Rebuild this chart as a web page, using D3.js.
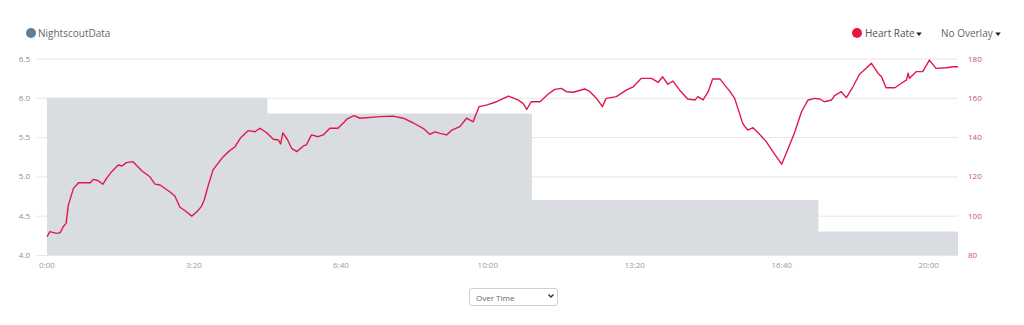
<!DOCTYPE html>
<html>
<head>
<meta charset="utf-8">
<script src="https://cdn.jsdelivr.net/npm/d3@7"></script>
<style>
  html, body { margin: 0; padding: 0; background: #fff; }
  body { width: 1024px; height: 325px; position: relative; overflow: hidden; font-family: "Open Sans", sans-serif; }
  svg { position: absolute; left: 0; top: 0; }
  select {
    position: absolute; left: 469px; top: 288px; width: 89px; height: 18px;
    font-family: "Open Sans", sans-serif; font-size: 8px; color: #666;
    border: 1px solid #d0d0d0; border-radius: 3px; background: #fff; padding: 0 0 0 6px;
    -webkit-appearance: none; appearance: none; box-sizing: border-box;
  }
  #chev { position: absolute; left: 547px; top: 292px; pointer-events: none; }
</style>
</head>
<body>
<svg id="chart" width="1024" height="325"></svg>
<select><option>Over Time</option></select>
<svg id="chev" width="8" height="8"><path d="M1.5,2.5 L4,5 L6.5,2.5" fill="none" stroke="#333" stroke-width="1.4"/></svg>
<script>
// ---- data ----
const glucoseStepTimes = [0, 300, 660, 1050, 1240];   // minutes
const glucoseStepValues = [6.0, 5.8, 4.7, 4.3, 4.3];   // mmol/L
const hrTimes = [0,4,9,13,18,22,26,29,36,39,43,59,63,70,76,81,88,97,102,108,117,129,140,147,154,167,174,181,188,197,204,210,214,219,226,238,247,256,263,274,283,290,299,308,315,318,321,327,333,340,349,353,360,369,376,385,396,405,408,418,426,453,471,485,498,512,521,528,535,544,551,562,571,580,588,598,612,628,641,648,653,659,671,682,691,700,707,716,732,739,748,756,761,775,789,798,809,823,832,838,845,852,861,872,882,886,893,900,906,916,923,929,936,947,950,954,961,970,979,988,1000,1009,1018,1027,1036,1045,1052,1058,1068,1072,1081,1088,1097,1106,1115,1122,1131,1136,1142,1154,1163,1170,1172,1174,1183,1192,1201,1210,1224,1233,1240];
const hrValues = [89.3,91.9,91.4,91.0,91.4,94.4,96.1,105.4,113.9,115.1,116.8,116.8,118.5,117.8,116,119,122.4,125.8,125.3,127,127.5,122.9,119.8,116.1,115.6,112.2,110,104.3,102.5,99.8,102,104.6,108,114.8,123.3,129.2,132.6,135.1,139.4,143.3,142.7,144.5,142.2,138.9,138.5,136.5,142.2,138.9,134.3,132.6,135.5,136,141.1,140.2,141.1,144.5,144.5,147.8,149.1,150.9,149.6,150.4,150.7,149.6,147.3,144.5,141.4,142.7,141.9,141.1,143.6,145.3,149.6,147.8,155.5,156.3,158,160.9,158.9,157.2,154.1,158,158,161.8,164.3,164.8,163.1,162.8,164.5,163.1,159.7,155.5,159.7,160.6,164,165.6,169.9,169.9,167.9,170.7,166.9,168.5,164,159.4,158.9,160.6,158.9,163.1,169.6,169.6,166.2,163.5,159.7,147,145.3,143.6,144.8,141.4,137.7,132.6,126.2,134.3,142.7,152.9,158.9,159.7,159.4,158,158.9,161.1,163.1,160.1,165.6,172,175,177.6,172.5,170.7,165.1,165.1,167.4,169.1,172.5,169.9,173.3,173.3,179.2,175,175.3,175.8,175.8];
const leftTicks = [4.0, 4.5, 5.0, 5.5, 6.0, 6.5];
const rightTicks = [80, 100, 120, 140, 160, 180];
const xTicks = [0, 200, 400, 600, 800, 1000, 1200];

// ---- layout ----
const svg = d3.select("#chart");
const x = d3.scaleLinear().domain([0, 1240]).range([47, 958]);
const yL = d3.scaleLinear().domain([4.0, 6.5]).range([255, 58.5]);
const yR = d3.scaleLinear().domain([80, 180]).range([255, 58.5]);

// gridlines
svg.append("g").selectAll("line").data(leftTicks).join("line")
  .attr("x1", 37).attr("x2", 958)
  .attr("y1", d => yL(d) + 0.5).attr("y2", d => yL(d) + 0.5)
  .attr("stroke", "#e6e6e6").attr("stroke-width", 1);

// glucose step area
const steps = glucoseStepTimes.map((t, i) => ({ t, v: glucoseStepValues[i] }));
svg.append("path").datum(steps)
  .attr("d", d3.area().curve(d3.curveStepAfter).x(d => x(d.t)).y0(yL(4.0)).y1(d => yL(d.v)))
  .attr("fill", "#d9dde2");

// heart rate line
const hr = hrTimes.map((t, i) => ({ t, v: hrValues[i] }));
svg.append("path").datum(hr)
  .attr("d", d3.line().x(d => x(d.t)).y(d => yR(d.v)))
  .attr("fill", "none").attr("stroke", "#e0184a").attr("stroke-width", 1.4)
  .attr("stroke-linejoin", "round");

// left axis labels
svg.append("g").selectAll("text").data(leftTicks).join("text")
  .attr("x", 30).attr("y", d => yL(d) + 3)
  .attr("text-anchor", "end").attr("font-size", 8).attr("fill", "#8a8f99")
  .text(d => d.toFixed(1));

// right axis labels
svg.append("g").selectAll("text").data(rightTicks).join("text")
  .attr("x", 968).attr("y", d => yR(d) + 3)
  .attr("text-anchor", "start").attr("font-size", 8).attr("fill", "#c4506e")
  .text(d => d);

// x axis labels
const fmt = m => Math.floor(m / 60) + ":" + String(m % 60).padStart(2, "0");
svg.append("g").selectAll("text").data(xTicks).join("text")
  .attr("x", d => x(d)).attr("y", 268)
  .attr("text-anchor", "middle").attr("font-size", 8).attr("fill", "#9a9a9a")
  .text(fmt);

// legends
const tri = (cx, cy) => `M${cx - 2.8},${cy - 1.5} L${cx + 2.8},${cy - 1.5} L${cx},${cy + 2} Z`;
svg.append("circle").attr("cx", 31).attr("cy", 33).attr("r", 5).attr("fill", "#5f7d95");
svg.append("text").attr("x", 38).attr("y", 36.5).attr("font-size", 10).attr("fill", "#666").text("NightscoutData");

svg.append("circle").attr("cx", 857).attr("cy", 33).attr("r", 5).attr("fill", "#e8143f");
svg.append("text").attr("x", 865).attr("y", 36.5).attr("font-size", 10).attr("fill", "#555").text("Heart Rate");
svg.append("path").attr("d", tri(919, 34)).attr("fill", "#222");
svg.append("text").attr("x", 941).attr("y", 36.5).attr("font-size", 10).attr("fill", "#666").text("No Overlay");
svg.append("path").attr("d", tri(998, 34)).attr("fill", "#222");
</script>
</body>
</html>
